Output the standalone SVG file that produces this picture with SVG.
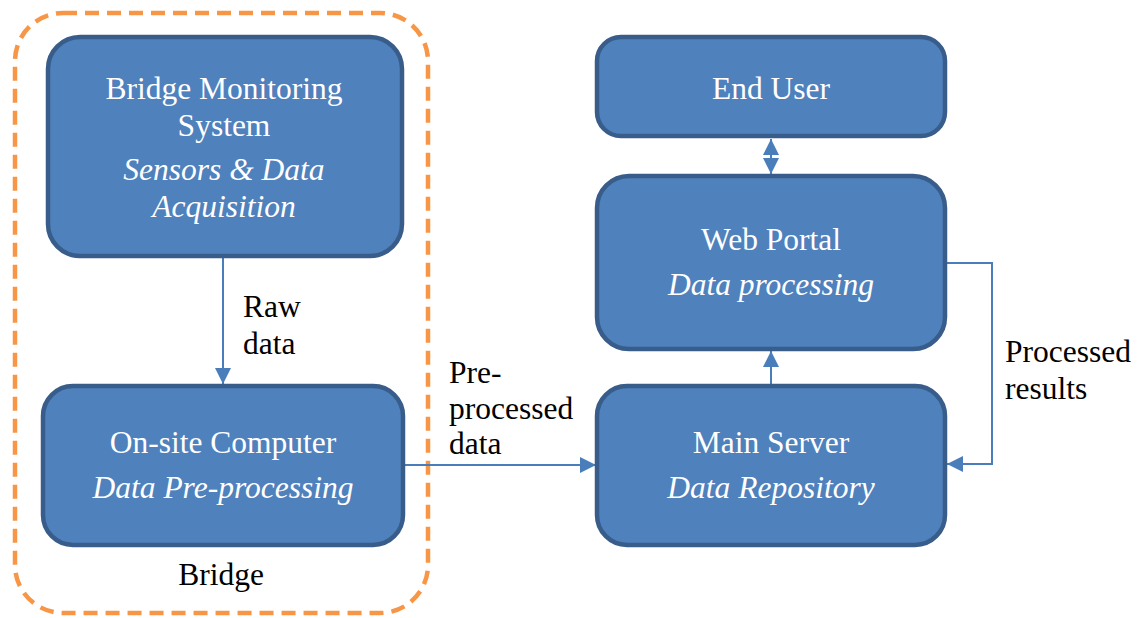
<svg xmlns="http://www.w3.org/2000/svg" width="1137" height="618" viewBox="0 0 1137 618">
<style>
.box{fill:#4F81BD;stroke:#385D8A;stroke-width:4.5}
.t{font-family:'Liberation Serif',Tinos,'Times New Roman',Times,'Nimbus Roman','DejaVu Serif',serif;font-size:31.5px;fill:#FFFFFF;text-anchor:middle}
.i{font-style:italic}
.lbl{font-family:'Liberation Serif',Tinos,'Times New Roman',Times,'Nimbus Roman','DejaVu Serif',serif;font-size:31.5px;fill:#000000}
.ln{fill:none;stroke:#4A7EBB;stroke-width:2}
</style>
<defs>
<marker id="ah2" viewBox="0 0 10 10" refX="10" refY="5" markerWidth="16" markerHeight="16" orient="auto-start-reverse" markerUnits="userSpaceOnUse">
<path d="M0,0 L10,5 L0,10 z" fill="#4A7EBB"/>
</marker>
</defs>
<rect x="0" y="0" width="1137" height="618" fill="#FFFFFF"/>
<g id="bridge-group">
<rect x="15" y="13" width="413" height="600" rx="48" ry="48" fill="none" stroke="#F79646" stroke-width="4.5" stroke-dasharray="14,8"/>
<text class="lbl" x="221" y="585" text-anchor="middle">Bridge</text>
</g>
<g id="connectors">
<line class="ln" x1="223" y1="258" x2="223" y2="384" marker-end="url(#ah2)"/>
<line class="ln" x1="403" y1="465" x2="596" y2="465" marker-end="url(#ah2)"/>
<line class="ln" x1="771" y1="386" x2="771" y2="351" marker-end="url(#ah2)"/>
<line class="ln" x1="771" y1="139" x2="771" y2="174" marker-start="url(#ah2)" marker-end="url(#ah2)"/>
<polyline class="ln" points="945,263 992,263 992,464 947,464" marker-end="url(#ah2)"/>
<text class="lbl" x="243" y="317">Raw</text>
<text class="lbl" x="243" y="354">data</text>
<text class="lbl" x="449" y="383">Pre-</text>
<text class="lbl" x="449" y="419">processed</text>
<text class="lbl" x="449" y="454">data</text>
<text class="lbl" x="1005" y="362">Processed</text>
<text class="lbl" x="1005" y="399">results</text>
</g>
<g id="bms">
<rect class="box" x="48" y="37" width="354" height="219" rx="32" ry="32"/>
<text class="t" x="224" y="99">Bridge Monitoring</text>
<text class="t" x="224" y="136">System</text>
<text class="t i" x="224" y="180">Sensors &amp; Data</text>
<text class="t i" x="224" y="217">Acquisition</text>
</g>
<g id="onsite">
<rect class="box" x="43" y="386" width="360" height="159" rx="30" ry="30"/>
<text class="t" x="223" y="453">On-site Computer</text>
<text class="t i" x="223" y="498">Data Pre-processing</text>
</g>
<g id="enduser">
<rect class="box" x="597" y="37" width="348" height="99" rx="24" ry="24"/>
<text class="t" x="771" y="99">End User</text>
</g>
<g id="webportal">
<rect class="box" x="597" y="176" width="348" height="173" rx="32" ry="32"/>
<text class="t" x="771" y="250">Web Portal</text>
<text class="t i" x="771" y="295">Data processing</text>
</g>
<g id="mainserver">
<rect class="box" x="597" y="386" width="348" height="159" rx="30" ry="30"/>
<text class="t" x="771" y="453">Main Server</text>
<text class="t i" x="771" y="498">Data Repository</text>
</g>
</svg>
